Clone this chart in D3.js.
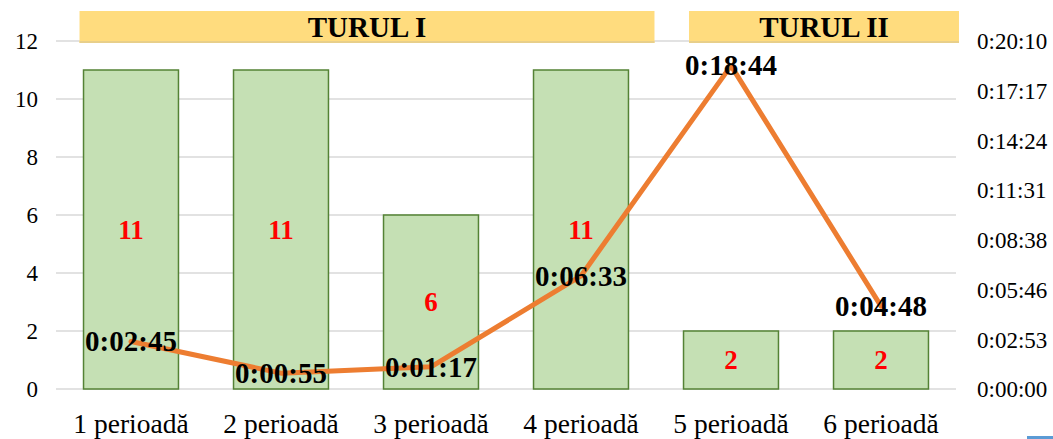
<!DOCTYPE html>
<html>
<head>
<meta charset="utf-8">
<script src="https://cdn.jsdelivr.net/npm/d3@7/dist/d3.min.js"></script>
<style>
  html, body { margin: 0; padding: 0; background: #fff; }
  svg { display: block; font-family: "Liberation Serif", "Times New Roman", serif; }
</style>
</head>
<body>
<svg id="chart" width="1053" height="439"></svg>
<script>
// Periods on the category axis
const categories = ["1 perioadă", "2 perioadă", "3 perioadă", "4 perioadă", "5 perioadă", "6 perioadă"];
// Bar series: count per period
const counts = [11, 11, 6, 11, 2, 2];
// Line series: duration per period (h:mm:ss)
const durations = ["0:02:45", "0:00:55", "0:01:17", "0:06:33", "0:18:44", "0:04:48"];
// Left axis ticks
const leftTicks = [0, 2, 4, 6, 8, 10, 12];
// Right axis tick labels (steps of 0.002 day)
const rightTickLabels = ["0:00:00", "0:02:53", "0:05:46", "0:08:38", "0:11:31", "0:14:24", "0:17:17", "0:20:10"];
// Round banners: label and first/last period index covered
const rounds = [
  { label: "TURUL I", from: 0, to: 3 },
  { label: "TURUL II", from: 4, to: 5 }
];

const toSeconds = s => s.split(":").map(Number).reduce((a, v) => a * 60 + v, 0);
const durSec = durations.map(toSeconds);
const daySec = 86400;
const rightStep = 0.002 * daySec;
const rightTickValues = rightTickLabels.map((_, i) => i * rightStep);

const svg = d3.select("#chart");
const plot = { left: 56, right: 956, top: 41, bottom: 389 };

const x = d3.scaleBand()
  .domain(categories)
  .range([plot.left, plot.right])
  .paddingInner(0.367)
  .paddingOuter(0.1835);

const yL = d3.scaleLinear().domain([0, 12]).range([plot.bottom, plot.top]);
const yR = d3.scaleLinear().domain([0, rightTickValues[rightTickValues.length - 1]]).range([plot.bottom, plot.top]);

// Horizontal gridlines
svg.append("g")
  .selectAll("line")
  .data(leftTicks)
  .join("line")
  .attr("x1", plot.left).attr("x2", plot.right)
  .attr("y1", d => yL(d)).attr("y2", d => yL(d))
  .attr("stroke", "#d9d9d9").attr("stroke-width", 1.5);

// Round banners across the top
const bannerPad = [{ l: -4, r: 26 }, { l: 5.5, r: 30.5 }];
svg.append("g")
  .selectAll("g")
  .data(rounds)
  .join("g")
  .each(function (r, i) {
    const g = d3.select(this);
    const x0 = x(categories[r.from]) + bannerPad[i].l;
    const x1 = x(categories[r.to]) + x.bandwidth() + bannerPad[i].r;
    g.append("rect")
      .attr("x", x0).attr("y", 11)
      .attr("width", x1 - x0).attr("height", 32)
      .attr("fill", "#ffdc7e");
    g.append("rect")
      .attr("x", x0).attr("y", 41)
      .attr("width", x1 - x0).attr("height", 2)
      .attr("fill", "#e8cf8a");
    g.append("text")
      .attr("x", (x0 + x1) / 2)
      .attr("y", 37)
      .attr("text-anchor", "middle")
      .attr("font-weight", "bold")
      .attr("font-size", 29)
      .attr("fill", "#000")
      .text(r.label);
  });

// Bars
svg.append("g")
  .selectAll("rect")
  .data(counts)
  .join("rect")
  .attr("x", (d, i) => x(categories[i]))
  .attr("y", d => yL(d))
  .attr("width", x.bandwidth())
  .attr("height", d => yL(0) - yL(d))
  .attr("fill", "#c5e0b4")
  .attr("stroke", "#548235")
  .attr("stroke-width", 1.5);

// Bar value labels
svg.append("g")
  .selectAll("text")
  .data(counts)
  .join("text")
  .attr("x", (d, i) => x(categories[i]) + x.bandwidth() / 2)
  .attr("y", d => (yL(d) + yL(0)) / 2)
  .attr("dy", "0.34em")
  .attr("text-anchor", "middle")
  .attr("font-weight", "bold")
  .attr("font-size", 27)
  .attr("fill", "#ff0000")
  .text(d => d);

// Duration line
const line = d3.line()
  .x((d, i) => x(categories[i]) + x.bandwidth() / 2)
  .y(d => yR(d));
svg.append("path")
  .datum(durSec)
  .attr("d", line)
  .attr("fill", "none")
  .attr("stroke", "#ed7d31")
  .attr("stroke-width", 5)
  .attr("stroke-linejoin", "round")
  .attr("stroke-linecap", "round");

// Duration labels
svg.append("g")
  .selectAll("text")
  .data(durations)
  .join("text")
  .attr("x", (d, i) => x(categories[i]) + x.bandwidth() / 2)
  .attr("y", (d, i) => yR(durSec[i]))
  .attr("dy", "0.34em")
  .attr("text-anchor", "middle")
  .attr("font-weight", "bold")
  .attr("font-size", 29)
  .attr("fill", "#000")
  .text(d => d);

// Left axis
const leftAxis = d3.axisLeft(yL).tickValues(leftTicks).tickSize(0).tickPadding(0);
svg.append("g")
  .attr("transform", "translate(38,0)")
  .call(leftAxis)
  .call(g => g.select(".domain").remove())
  .call(g => g.selectAll("text")
    .attr("font-family", "Liberation Serif, Times New Roman, serif")
    .attr("font-size", 23).attr("fill", "#000").attr("dy", "0.34em"));

// Right axis
const rightAxis = d3.axisRight(yR)
  .tickValues(rightTickValues)
  .tickFormat((d, i) => rightTickLabels[i])
  .tickSize(0).tickPadding(0);
svg.append("g")
  .attr("transform", "translate(977,0)")
  .call(rightAxis)
  .call(g => g.select(".domain").remove())
  .call(g => g.selectAll("text")
    .attr("font-family", "Liberation Serif, Times New Roman, serif")
    .attr("font-size", 23).attr("fill", "#000").attr("dy", "0.34em"));

// Category axis
const bottomAxis = d3.axisBottom(x).tickSize(0).tickPadding(0);
svg.append("g")
  .attr("transform", "translate(0,433)")
  .call(bottomAxis)
  .call(g => g.select(".domain").remove())
  .call(g => g.selectAll("text")
    .attr("font-family", "Liberation Serif, Times New Roman, serif")
    .attr("font-size", 27.5).attr("fill", "#000").attr("dy", 0));

// Selection marker at the lower right corner
svg.append("rect")
  .attr("x", 1027).attr("y", 436)
  .attr("width", 26).attr("height", 3)
  .attr("fill", "#5b9bd5");
</script>
</body>
</html>
